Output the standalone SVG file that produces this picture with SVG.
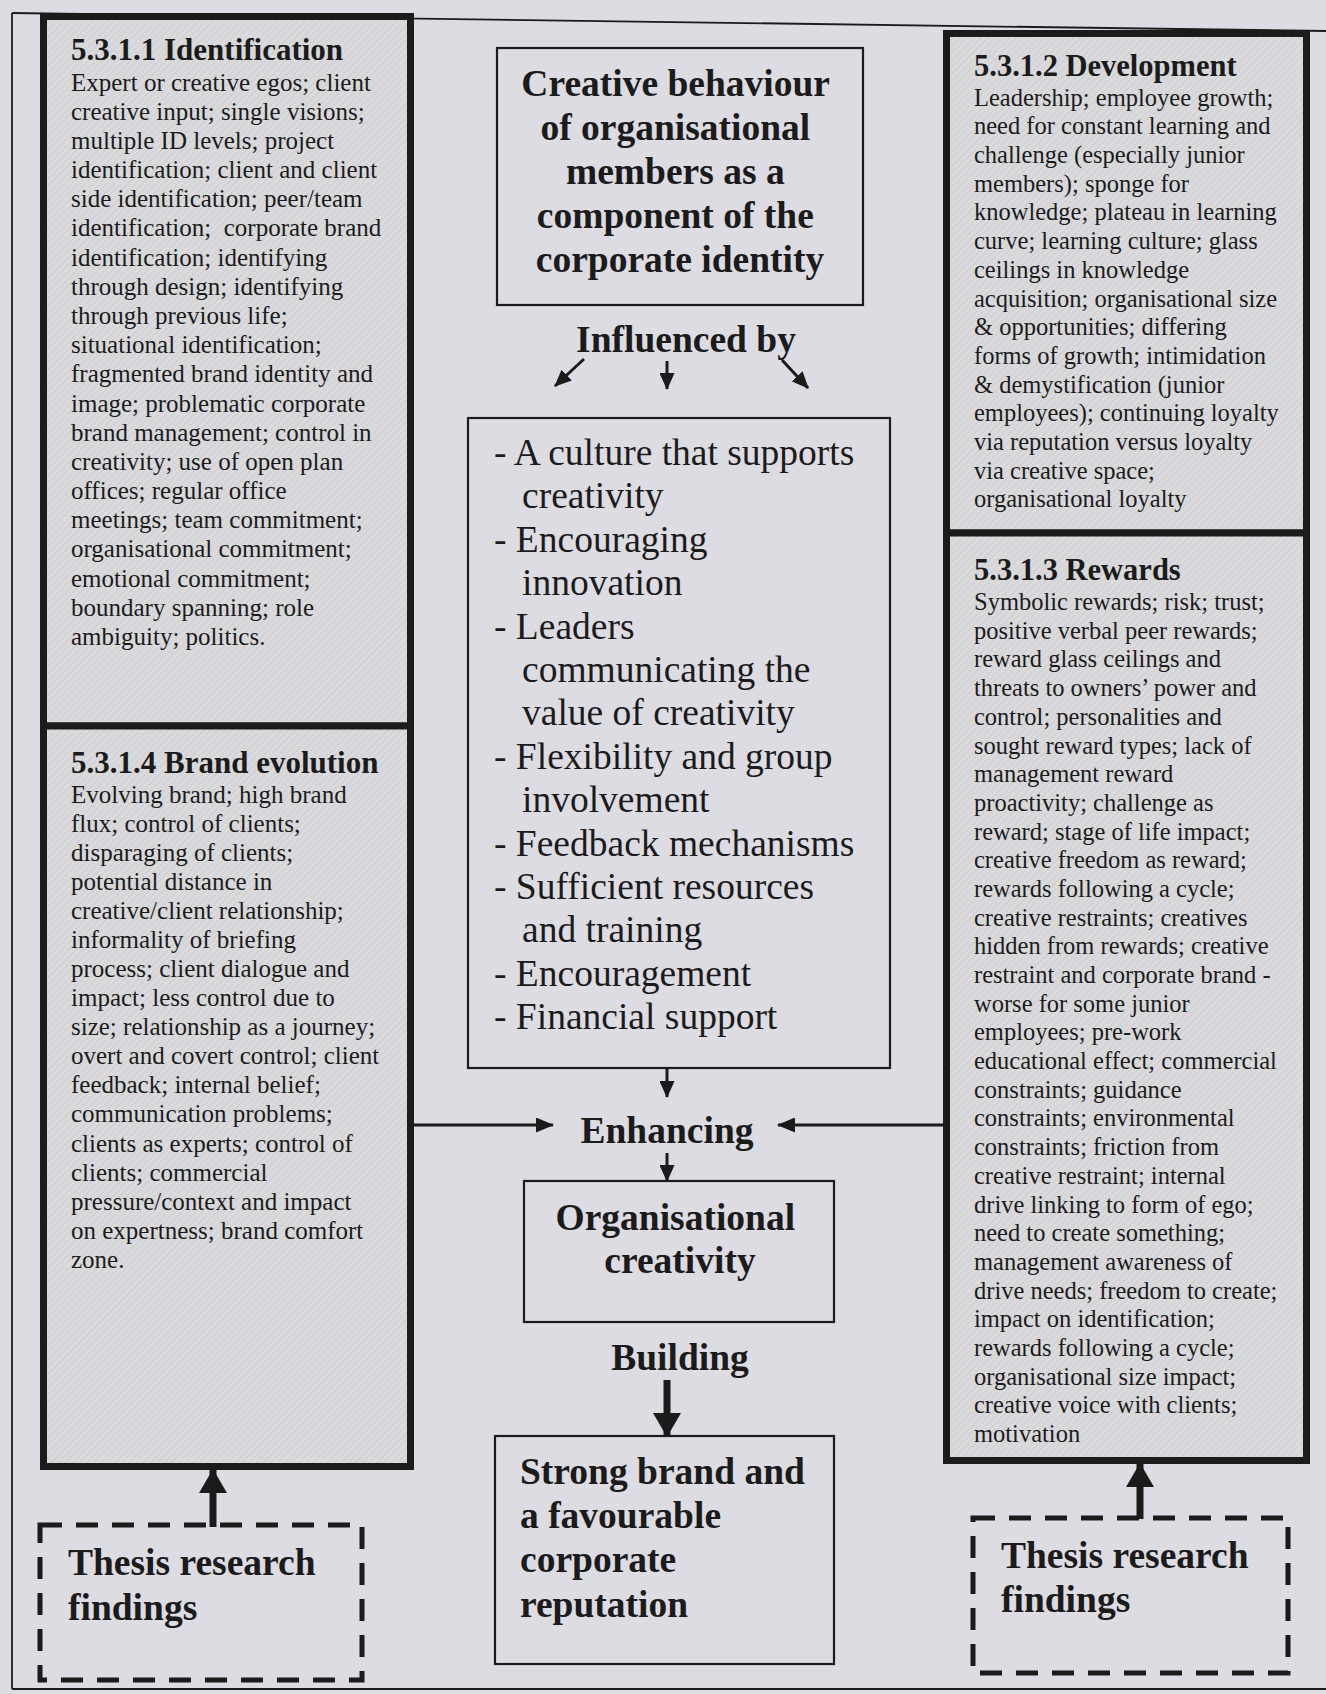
<svg xmlns="http://www.w3.org/2000/svg" width="1326" height="1694" viewBox="0 0 1326 1694">
  <defs>
    <style>
      .bg { fill: #dddce2; }
      .panel { fill: url(#hatch); stroke: #1b1b1b; stroke-width: 7; }
      .box { fill: none; stroke: #1b1b1b; stroke-width: 2.2; }
      .dash { fill: none; stroke: #1b1b1b; stroke-width: 5; stroke-dasharray: 22 14; }
      .frame { fill: none; stroke: #1b1b1b; stroke-width: 1.8; }
      .serif { font-family: "Liberation Serif", "Times New Roman", serif; fill: #1b1b1b; }
      .head-l { font-size: 31px; font-weight: bold; }
      .body-l { font-size: 25px; }
      .head-r { font-size: 30.5px; font-weight: bold; }
      .body-r { font-size: 24.5px; }
      .big { font-size: 37.5px; font-weight: bold; }
      .list { font-size: 37.5px; }
      .mid { text-anchor: middle; }
      .thin { stroke: #1b1b1b; stroke-width: 3; fill: none; }
      .mid-w { stroke: #1b1b1b; stroke-width: 3; fill: none; }
      .thick { stroke: #1b1b1b; stroke-width: 7; fill: none; }
    </style>
    <pattern id="hatch" width="5" height="5" patternUnits="userSpaceOnUse" patternTransform="rotate(45)">
      <rect width="5" height="5" fill="#dadadd"/>
      <line x1="0" y1="0" x2="0" y2="5" stroke="#cbcbcf" stroke-width="1.4"/>
    </pattern>
    <marker id="arrSmall" viewBox="0 0 17 15" refX="16" refY="7.5" markerWidth="17" markerHeight="15" markerUnits="userSpaceOnUse" orient="auto">
      <path d="M0,0 L17,7.5 L0,15 z" fill="#1b1b1b"/>
    </marker>
    <marker id="arrMid" viewBox="0 0 18 15" refX="17" refY="7.5" markerWidth="18" markerHeight="15" markerUnits="userSpaceOnUse" orient="auto">
      <path d="M0,0 L18,7.5 L0,15 z" fill="#1b1b1b"/>
    </marker>
    <marker id="arrBig" viewBox="0 0 24 28" refX="23" refY="14" markerWidth="24" markerHeight="28" markerUnits="userSpaceOnUse" orient="auto">
      <path d="M0,0 L24,14 L0,28 z" fill="#1b1b1b"/>
    </marker>
  </defs>

  <rect class="bg" x="0" y="0" width="1326" height="1694"/>

  <!-- page frame -->
  <g id="frame">
    <line class="frame" x1="12" y1="13" x2="1326" y2="31"/>
    <line class="frame" x1="12" y1="13" x2="12" y2="1689"/>
    <line class="frame" x1="12" y1="1689" x2="1326" y2="1689"/>
  </g>

  <!-- connectors -->
  <g id="connectors">
    <line class="thin" x1="584" y1="359" x2="555" y2="386" marker-end="url(#arrSmall)"/>
    <line class="thin" x1="667" y1="361" x2="667" y2="389" marker-end="url(#arrSmall)"/>
    <line class="thin" x1="782" y1="360" x2="808" y2="388" marker-end="url(#arrSmall)"/>
    <line class="thin" x1="667" y1="1069" x2="667" y2="1097" marker-end="url(#arrSmall)"/>
    <line class="mid-w" x1="414" y1="1125" x2="553" y2="1125" marker-end="url(#arrMid)"/>
    <line class="mid-w" x1="943" y1="1125" x2="778" y2="1125" marker-end="url(#arrMid)"/>
    <line class="thin" x1="667" y1="1153" x2="667" y2="1181" marker-end="url(#arrSmall)"/>
    <line class="thick" x1="667" y1="1380" x2="667" y2="1436" marker-end="url(#arrBig)"/>
    <line class="thick" x1="213" y1="1527" x2="213" y2="1470" marker-end="url(#arrBig)"/>
    <line class="thick" x1="1140" y1="1519" x2="1140" y2="1464" marker-end="url(#arrBig)"/>
  </g>

  <!-- 5.3.1.1 Identification -->
  <g id="identification">
    <rect class="panel" x="43.5" y="16.5" width="367" height="709.5"/>
    <text class="serif head-l" x="71" y="60">5.3.1.1 Identification</text>
    <text class="serif body-l" x="71" xml:space="preserve">
      <tspan x="71" y="90.5">Expert or creative egos; client</tspan>
      <tspan x="71" y="119.7">creative input; single visions;</tspan>
      <tspan x="71" y="148.9">multiple ID levels; project</tspan>
      <tspan x="71" y="178.1">identification; client and client</tspan>
      <tspan x="71" y="207.3">side identification; peer/team</tspan>
      <tspan x="71" y="236.4">identification;  corporate brand</tspan>
      <tspan x="71" y="265.6">identification; identifying</tspan>
      <tspan x="71" y="294.8">through design; identifying</tspan>
      <tspan x="71" y="324">through previous life;</tspan>
      <tspan x="71" y="353.2">situational identification;</tspan>
      <tspan x="71" y="382.3">fragmented brand identity and</tspan>
      <tspan x="71" y="411.5">image; problematic corporate</tspan>
      <tspan x="71" y="440.7">brand management; control in</tspan>
      <tspan x="71" y="469.9">creativity; use of open plan</tspan>
      <tspan x="71" y="499.1">offices; regular office</tspan>
      <tspan x="71" y="528.2">meetings; team commitment;</tspan>
      <tspan x="71" y="557.4">organisational commitment;</tspan>
      <tspan x="71" y="586.6">emotional commitment;</tspan>
      <tspan x="71" y="615.8">boundary spanning; role</tspan>
      <tspan x="71" y="645">ambiguity; politics.</tspan>
    </text>
  </g>

  <!-- 5.3.1.4 Brand evolution -->
  <g id="brand-evolution">
    <rect class="panel" x="43.5" y="726" width="367" height="740.5"/>
    <text class="serif head-l" x="71" y="773">5.3.1.4 Brand evolution</text>
    <text class="serif body-l">
      <tspan x="71" y="803">Evolving brand; high brand</tspan>
      <tspan x="71" y="832">flux; control of clients;</tspan>
      <tspan x="71" y="861.1">disparaging of clients;</tspan>
      <tspan x="71" y="890.1">potential distance in</tspan>
      <tspan x="71" y="919.2">creative/client relationship;</tspan>
      <tspan x="71" y="948.2">informality of briefing</tspan>
      <tspan x="71" y="977.2">process; client dialogue and</tspan>
      <tspan x="71" y="1006.3">impact; less control due to</tspan>
      <tspan x="71" y="1035.3">size; relationship as a journey;</tspan>
      <tspan x="71" y="1064.4">overt and covert control; client</tspan>
      <tspan x="71" y="1093.4">feedback; internal belief;</tspan>
      <tspan x="71" y="1122.4">communication problems;</tspan>
      <tspan x="71" y="1151.5">clients as experts; control of</tspan>
      <tspan x="71" y="1180.5">clients; commercial</tspan>
      <tspan x="71" y="1209.6">pressure/context and impact</tspan>
      <tspan x="71" y="1238.6">on expertness; brand comfort</tspan>
      <tspan x="71" y="1267.6">zone.</tspan>
    </text>
  </g>

  <!-- 5.3.1.2 Development -->
  <g id="development">
    <rect class="panel" x="946.5" y="33.5" width="360" height="499.5"/>
    <text class="serif head-r" x="974" y="76">5.3.1.2 Development</text>
    <text class="serif body-r">
      <tspan x="974" y="105.5">Leadership; employee growth;</tspan>
      <tspan x="974" y="134.2">need for constant learning and</tspan>
      <tspan x="974" y="162.9">challenge (especially junior</tspan>
      <tspan x="974" y="191.6">members); sponge for</tspan>
      <tspan x="974" y="220.3">knowledge; plateau in learning</tspan>
      <tspan x="974" y="249">curve; learning culture; glass</tspan>
      <tspan x="974" y="277.8">ceilings in knowledge</tspan>
      <tspan x="974" y="306.5">acquisition; organisational size</tspan>
      <tspan x="974" y="335.2">&amp; opportunities; differing</tspan>
      <tspan x="974" y="363.9">forms of growth; intimidation</tspan>
      <tspan x="974" y="392.6">&amp; demystification (junior</tspan>
      <tspan x="974" y="421.3">employees); continuing loyalty</tspan>
      <tspan x="974" y="450">via reputation versus loyalty</tspan>
      <tspan x="974" y="478.7">via creative space;</tspan>
      <tspan x="974" y="507.4">organisational loyalty</tspan>
    </text>
  </g>

  <!-- 5.3.1.3 Rewards -->
  <g id="rewards">
    <rect class="panel" x="946.5" y="533" width="360" height="927.5"/>
    <text class="serif head-r" x="974" y="580">5.3.1.3 Rewards</text>
    <text class="serif body-r">
      <tspan x="974" y="610">Symbolic rewards; risk; trust;</tspan>
      <tspan x="974" y="638.7">positive verbal peer rewards;</tspan>
      <tspan x="974" y="667.4">reward glass ceilings and</tspan>
      <tspan x="974" y="696.1">threats to owners’ power and</tspan>
      <tspan x="974" y="724.8">control; personalities and</tspan>
      <tspan x="974" y="753.5">sought reward types; lack of</tspan>
      <tspan x="974" y="782.1">management reward</tspan>
      <tspan x="974" y="810.8">proactivity; challenge as</tspan>
      <tspan x="974" y="839.5">reward; stage of life impact;</tspan>
      <tspan x="974" y="868.2">creative freedom as reward;</tspan>
      <tspan x="974" y="896.9">rewards following a cycle;</tspan>
      <tspan x="974" y="925.6">creative restraints; creatives</tspan>
      <tspan x="974" y="954.3">hidden from rewards; creative</tspan>
      <tspan x="974" y="983">restraint and corporate brand -</tspan>
      <tspan x="974" y="1011.7">worse for some junior</tspan>
      <tspan x="974" y="1040.4">employees; pre-work</tspan>
      <tspan x="974" y="1069">educational effect; commercial</tspan>
      <tspan x="974" y="1097.7">constraints; guidance</tspan>
      <tspan x="974" y="1126.4">constraints; environmental</tspan>
      <tspan x="974" y="1155.1">constraints; friction from</tspan>
      <tspan x="974" y="1183.8">creative restraint; internal</tspan>
      <tspan x="974" y="1212.5">drive linking to form of ego;</tspan>
      <tspan x="974" y="1241.2">need to create something;</tspan>
      <tspan x="974" y="1269.9">management awareness of</tspan>
      <tspan x="974" y="1298.6">drive needs; freedom to create;</tspan>
      <tspan x="974" y="1327.3">impact on identification;</tspan>
      <tspan x="974" y="1356">rewards following a cycle;</tspan>
      <tspan x="974" y="1384.7">organisational size impact;</tspan>
      <tspan x="974" y="1413.4">creative voice with clients;</tspan>
      <tspan x="974" y="1442">motivation</tspan>
    </text>
  </g>

  <!-- central title -->
  <g id="creative-behaviour">
    <rect class="box" x="497" y="48" width="366" height="257"/>
    <text class="serif big mid">
      <tspan x="680" y="96">Creative behaviour</tspan>
      <tspan x="680" y="140">of organisational</tspan>
      <tspan x="680" y="184">members as a</tspan>
      <tspan x="680" y="228">component of the</tspan>
      <tspan x="680" y="272">corporate identity</tspan>
    </text>
  </g>

  <g id="influenced-by">
    <text class="serif big mid" x="686" y="352">Influenced by</text>
  </g>

  <!-- list of influences -->
  <g id="influences">
    <rect class="box" x="468" y="418" width="422" height="650"/>
    <text class="serif list">
      <tspan x="494" y="465">- A culture that supports</tspan>
      <tspan x="522" y="508.4">creativity</tspan>
      <tspan x="494" y="551.8">- Encouraging</tspan>
      <tspan x="522" y="595.2">innovation</tspan>
      <tspan x="494" y="638.6">- Leaders</tspan>
      <tspan x="522" y="682">communicating the</tspan>
      <tspan x="522" y="725.4">value of creativity</tspan>
      <tspan x="494" y="768.8">- Flexibility and group</tspan>
      <tspan x="522" y="812.2">involvement</tspan>
      <tspan x="494" y="855.6">- Feedback mechanisms</tspan>
      <tspan x="494" y="899">- Sufficient resources</tspan>
      <tspan x="522" y="942.4">and training</tspan>
      <tspan x="494" y="985.8">- Encouragement</tspan>
      <tspan x="494" y="1029.2">- Financial support</tspan>
    </text>
  </g>

  <g id="enhancing">
    <text class="serif big mid" x="667" y="1143">Enhancing</text>
  </g>

  <g id="organisational-creativity">
    <rect class="box" x="524" y="1181" width="310" height="141"/>
    <text class="serif big mid">
      <tspan x="680" y="1230">Organisational</tspan>
      <tspan x="680" y="1273">creativity</tspan>
    </text>
  </g>

  <g id="building">
    <text class="serif big mid" x="680" y="1370">Building</text>
  </g>

  <g id="strong-brand">
    <rect class="box" x="495" y="1436" width="339" height="228"/>
    <text class="serif big">
      <tspan x="520" y="1484">Strong brand and</tspan>
      <tspan x="520" y="1528">a favourable</tspan>
      <tspan x="520" y="1572">corporate</tspan>
      <tspan x="520" y="1617">reputation</tspan>
    </text>
  </g>

  <!-- research findings sources -->
  <g id="findings-left">
    <rect class="dash" x="40" y="1525" width="322" height="155"/>
    <text class="serif big">
      <tspan x="68" y="1575">Thesis research</tspan>
      <tspan x="68" y="1620">findings</tspan>
    </text>
  </g>

  <g id="findings-right">
    <rect class="dash" x="973" y="1518" width="315" height="155"/>
    <text class="serif big">
      <tspan x="1001" y="1568">Thesis research</tspan>
      <tspan x="1001" y="1612">findings</tspan>
    </text>
  </g>
</svg>
